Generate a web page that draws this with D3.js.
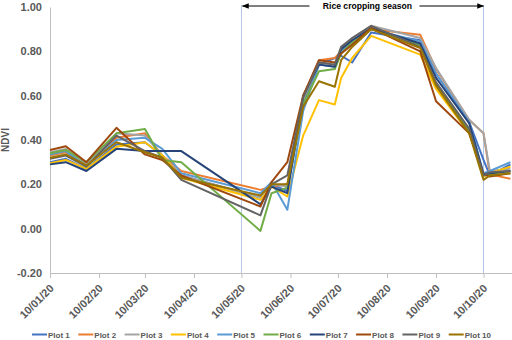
<html>
<head>
<script src="https://d3js.org/d3.v7.min.js"></script>
<style>
  body { margin: 0; background: #fff; }
  text { font-family: "Liberation Sans", Arial, sans-serif; font-weight: bold; }
</style>
</head>
<body>
<svg id="chart" width="512" height="340"></svg>
<script>
// acquisition dates (dd/mm/yy)
var dates = ["10/01/20","20/01/20","02/02/20","21/02/20","10/03/20","21/03/20","02/04/20",
             "22/05/20","29/05/20","08/06/20","18/06/20","28/06/20","08/07/20","12/07/20",
             "19/07/20","31/07/20","31/08/20","10/09/20","01/10/20","10/10/20","14/10/20","27/10/20"];

var plot1  = [0.30,0.315,0.27,0.38,0.39,0.33,0.24,0.14,0.20,0.17,0.57,0.74,0.77,0.78,0.75,0.885,0.85,0.70,0.48,0.31,0.24,0.29];
var plot2  = [0.33,0.345,0.29,0.41,0.43,0.33,0.26,0.175,0.19,0.20,0.59,0.76,0.77,0.80,0.84,0.90,0.875,0.72,0.49,0.43,0.245,0.225];
var plot3  = [0.345,0.36,0.29,0.43,0.42,0.33,0.24,0.14,0.20,0.19,0.58,0.75,0.74,0.81,0.86,0.915,0.86,0.725,0.49,0.43,0.26,0.27];
var plot4  = [0.295,0.31,0.27,0.37,0.39,0.33,0.23,0.13,0.19,0.145,0.42,0.58,0.56,0.68,0.77,0.87,0.785,0.63,0.43,0.235,0.25,0.28];
var plot5  = [0.335,0.35,0.28,0.40,0.41,0.36,0.25,0.16,0.21,0.085,0.53,0.74,0.73,0.80,0.84,0.90,0.845,0.70,0.48,0.25,0.26,0.30];
var plot6  = [0.34,0.355,0.30,0.43,0.45,0.31,0.30,-0.01,0.16,0.185,0.56,0.71,0.72,0.79,0.84,0.90,0.83,0.65,0.44,0.24,0.245,0.26];
var plot7  = [0.29,0.30,0.26,0.36,0.35,0.35,0.35,0.11,0.19,0.16,0.60,0.74,0.73,0.81,0.85,0.905,0.835,0.68,0.475,0.245,0.25,0.26];
var plot8  = [0.355,0.372,0.30,0.455,0.335,0.31,0.24,0.10,0.21,0.30,0.60,0.76,0.75,0.79,0.83,0.905,0.80,0.575,0.43,0.245,0.235,0.25];
var plot9  = [0.315,0.33,0.28,0.42,0.35,0.32,0.22,0.06,0.20,0.24,0.59,0.75,0.74,0.82,0.86,0.915,0.82,0.66,0.45,0.24,0.255,0.26];
var plot10 = [0.32,0.335,0.285,0.39,0.345,0.32,0.23,0.15,0.20,0.20,0.55,0.665,0.64,0.76,0.82,0.90,0.815,0.645,0.43,0.22,0.24,0.25];

var seriesNames = ["Plot 1","Plot 2","Plot 3","Plot 4","Plot 5","Plot 6","Plot 7","Plot 8","Plot 9","Plot 10"];
var seriesValues = [plot1,plot2,plot3,plot4,plot5,plot6,plot7,plot8,plot9,plot10];
var colors = ["#4472c4","#ed7d31","#a5a5a5","#ffc000","#5b9bd5","#70ad47","#264478","#9e480e","#636363","#997300"];

var yTicks = [-0.2, 0, 0.2, 0.4, 0.6, 0.8, 1.0];
var xTickLabels = ["10/01/20","10/02/20","10/03/20","10/04/20","10/05/20","10/06/20","10/07/20","10/08/20","10/09/20","10/10/20"];
var seasonStart = "10/05/20", seasonEnd = "10/10/20";
var seasonLabel = "Rice cropping season";

var parse = d3.timeParse("%d/%m/%y");
var svg = d3.select("#chart");

var x = d3.scaleTime()
  .domain([parse("10/01/20"), parse("28/10/20")])
  .range([50, 512]);
var y = d3.scaleLinear().domain([-0.2, 1.0]).range([273, 7]);

// y axis
var yAxis = svg.append("g")
  .attr("transform", "translate(50,0)")
  .call(d3.axisLeft(y).tickValues(yTicks).tickSize(0).tickPadding(8)
    .tickFormat(function(d){ return d.toFixed(2); }));
yAxis.select(".domain").attr("stroke", "#bfbfbf");
yAxis.selectAll("text").attr("fill", "#595959").style("font-size", "11px");

// x axis
var xAxis = svg.append("g")
  .attr("transform", "translate(0,273)")
  .call(d3.axisBottom(x).tickValues(xTickLabels.map(parse)).tickSize(5).tickSizeOuter(0)
    .tickFormat(d3.timeFormat("%d/%m/%y")));
xAxis.select(".domain").attr("stroke", "#bfbfbf");
xAxis.selectAll("line").attr("stroke", "#bfbfbf");
xAxis.selectAll("text")
  .attr("fill", "#595959").style("font-size", "11px")
  .attr("text-anchor", "end")
  .attr("x", 0).attr("y", 0).attr("dy", 0)
  .attr("transform", "translate(4,16) rotate(-45)");

// y label
svg.append("text")
  .attr("transform", "translate(9,140) rotate(-90)")
  .attr("text-anchor", "middle")
  .attr("fill", "#595959")
  .style("font-size", "10px")
  .text("NDVI");

// season markers
[seasonStart, seasonEnd].forEach(function(s){
  svg.append("line")
    .attr("x1", x(parse(s))).attr("x2", x(parse(s)))
    .attr("y1", 5).attr("y2", 273)
    .attr("stroke", "#b4c7e7").attr("stroke-width", 1);
});

// lines
var line = d3.line()
  .x(function(d, i){ return x(parse(dates[i])); })
  .y(function(d){ return y(d); });

seriesValues.forEach(function(vals, k){
  svg.append("path")
    .datum(vals)
    .attr("d", line)
    .attr("fill", "none")
    .attr("stroke", colors[k])
    .attr("stroke-width", 2)
    .attr("stroke-linejoin", "round");
});

// season arrow
var defs = svg.append("defs");
defs.append("marker")
  .attr("id", "arr")
  .attr("viewBox", "0 0 10 10")
  .attr("refX", 9).attr("refY", 5)
  .attr("markerWidth", 7).attr("markerHeight", 7)
  .attr("orient", "auto")
  .append("path").attr("d", "M0,1 L10,5 L0,9 Z").attr("fill", "#000");

var xs = x(parse(seasonStart)), xe = x(parse(seasonEnd));
var xm = (xs + xe) / 2 + 5;
svg.append("line")
  .attr("x1", xm - 58).attr("x2", xs + 1).attr("y1", 6).attr("y2", 6)
  .attr("stroke", "#000").attr("stroke-width", 1).attr("marker-end", "url(#arr)");
svg.append("line")
  .attr("x1", xm + 52).attr("x2", xe).attr("y1", 6).attr("y2", 6)
  .attr("stroke", "#000").attr("stroke-width", 1).attr("marker-end", "url(#arr)");
svg.append("text")
  .attr("x", xm).attr("y", 9)
  .attr("text-anchor", "middle")
  .attr("fill", "#000")
  .style("font-size", "8.6px")
  .text(seasonLabel);

// legend
var leg = svg.append("g");
seriesNames.forEach(function(name, k){
  var lx = 32 + k * 46.3;
  leg.append("line")
    .attr("x1", lx).attr("x2", lx + 15).attr("y1", 334.5).attr("y2", 334.5)
    .attr("stroke", colors[k]).attr("stroke-width", 2);
  leg.append("text")
    .attr("x", lx + 16).attr("y", 337.5)
    .attr("fill", "#595959")
    .style("font-size", "8px")
    .text(name);
});
</script>
</body>
</html>
